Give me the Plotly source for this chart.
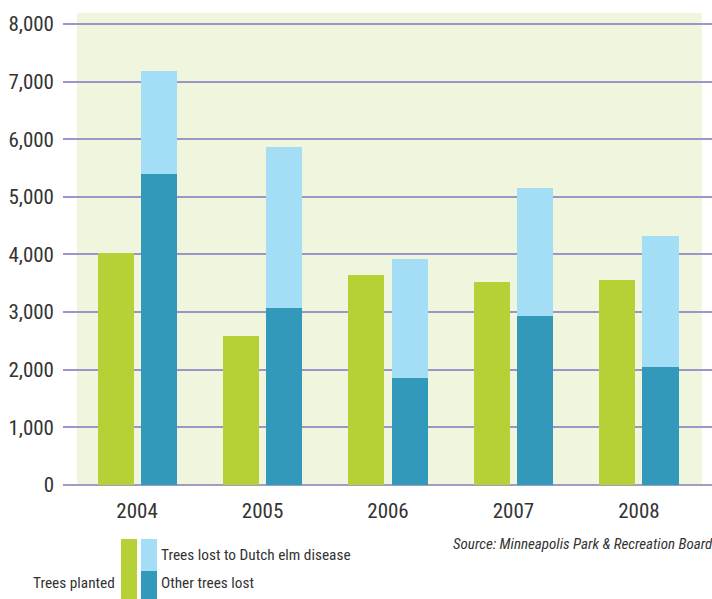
import plotly.graph_objects as go

# Minneapolis park trees, 2004-2008
years = ["2004", "2005", "2006", "2007", "2008"]
trees_planted = [4020, 2590, 3640, 3520, 3560]
other_trees_lost = [5400, 3070, 1860, 2930, 2050]
total_trees_lost = [7190, 5870, 3920, 5150, 4320]
dutch_elm_lost = [t - o for t, o in zip(total_trees_lost, other_trees_lost)]

y_ticks = [0, 1000, 2000, 3000, 4000, 5000, 6000, 7000, 8000]
y_tick_text = ["0", "1,000", "2,000", "3,000", "4,000", "5,000", "6,000", "7,000", "8,000"]

GREEN = "#b5d136"
DARK_BLUE = "#3399bb"
LIGHT_BLUE = "#a3ddf6"
PANEL = "#f0f5de"
GRID = "#9a97c6"
TEXT = "#333333"
FONT = "Liberation Sans Narrow, Roboto Condensed, Arial Narrow, DejaVu Sans Condensed, sans-serif"

BAR_W = 0.287

fig = go.Figure()
fig.add_trace(go.Bar(
    x=years, y=trees_planted, name="Trees planted",
    marker=dict(color=GREEN, line=dict(width=0)),
    width=BAR_W, offset=-0.315,
))
fig.add_trace(go.Bar(
    x=years, y=other_trees_lost, name="Other trees lost",
    marker=dict(color=DARK_BLUE, line=dict(width=0)),
    width=BAR_W, offset=0.028,
))
fig.add_trace(go.Bar(
    x=years, y=dutch_elm_lost, base=other_trees_lost,
    name="Trees lost to Dutch elm disease",
    marker=dict(color=LIGHT_BLUE, line=dict(width=0)),
    width=BAR_W, offset=0.028,
))

shapes = [
    # tinted panel behind the bars, under the gridlines
    dict(type="rect", xref="paper", yref="paper", x0=0.0216, x1=0.9846, y0=0, y1=1,
         fillcolor=PANEL, line=dict(width=0), layer="below"),
    # legend swatches
    dict(type="rect", xref="paper", yref="paper", x0=0.0894, x1=0.1140, y0=-0.2415, y1=-0.1144,
         fillcolor=GREEN, line=dict(width=0)),
    dict(type="rect", xref="paper", yref="paper", x0=0.1202, x1=0.1448, y0=-0.1822, y1=-0.1144,
         fillcolor=LIGHT_BLUE, line=dict(width=0)),
    dict(type="rect", xref="paper", yref="paper", x0=0.1202, x1=0.1448, y0=-0.2415, y1=-0.1822,
         fillcolor=DARK_BLUE, line=dict(width=0)),
]

legend_font = dict(family=FONT, size=15.3, color=TEXT)
annotations = [
    dict(text="Trees lost to Dutch elm disease", xref="paper", yref="paper",
         x=0.1479, y=-0.1483, xanchor="left", yanchor="middle", showarrow=False, font=legend_font),
    dict(text="Other trees lost", xref="paper", yref="paper",
         x=0.1479, y=-0.2076, xanchor="left", yanchor="middle", showarrow=False, font=legend_font),
    dict(text="Trees planted", xref="paper", yref="paper",
         x=0.0832, y=-0.2076, xanchor="right", yanchor="middle", showarrow=False, font=legend_font),
    dict(text="<i>Source: Minneapolis Park &amp; Recreation Board</i>", xref="paper", yref="paper",
         x=1.0, y=-0.125, xanchor="right", yanchor="middle", xshift=3, showarrow=False,
         font=dict(family=FONT, size=15, color=TEXT)),
]

fig.update_layout(
    width=712, height=599,
    margin=dict(l=63, r=0, t=13, b=114),
    paper_bgcolor="white", plot_bgcolor="white",
    barmode="overlay", bargap=0,
    showlegend=False,
    shapes=shapes, annotations=annotations,
    font=dict(family=FONT, color=TEXT),
)
fig.update_xaxes(
    range=[-0.59, 4.582], showgrid=False, showline=False, zeroline=False,
    ticks="", tickfont=dict(family=FONT, size=21, color=TEXT), ticklabelstandoff=11,
)
fig.update_yaxes(
    range=[0, 8190], tickvals=y_ticks, ticktext=y_tick_text,
    showgrid=True, gridcolor=GRID, gridwidth=2,
    zeroline=True, zerolinecolor="#a09cc2", zerolinewidth=2,
    showline=False, ticks="",
    tickfont=dict(family=FONT, size=21, color=TEXT), ticklabelstandoff=8,
)

fig.write_html("out.html")
